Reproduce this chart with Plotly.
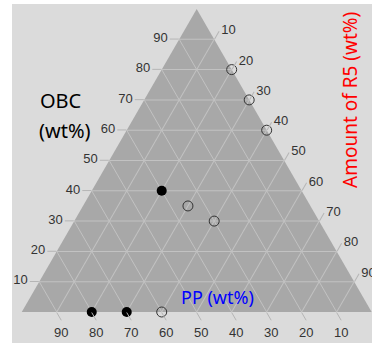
import plotly.graph_objects as go

# Data (a = OBC, b = PP, c = R5), wt%
filled_obc = [40, 0, 0]
filled_pp = [40, 80, 70]
filled_r5 = [20, 20, 30]

open_obc = [80, 70, 60, 35, 30, 0]
open_pp = [0, 0, 0, 35, 30, 60]
open_r5 = [20, 30, 40, 30, 40, 40]

tick_vals = [10, 20, 30, 40, 50, 60, 70, 80, 90]

W, H = 372, 343
fig = go.Figure()

fig.add_trace(go.Scatterternary(
    a=open_obc, b=open_pp, c=open_r5, mode="markers", cliponaxis=False,
    marker=dict(size=10, color="rgba(0,0,0,0)", line=dict(color="#333333", width=1)),
    showlegend=False, hoverinfo="skip"))
fig.add_trace(go.Scatterternary(
    a=filled_obc, b=filled_pp, c=filled_r5, mode="markers", cliponaxis=False,
    marker=dict(size=10, color="black", line=dict(width=0)),
    showlegend=False, hoverinfo="skip"))

axis_common = dict(
    tickmode="array", tickvals=tick_vals, ticks="outside", ticklen=9,
    tickcolor="#b5b5b5", tickfont=dict(family="Liberation Sans, Arial", size=13, color="#333333"),
    gridcolor="#c2c2c2", gridwidth=1, linecolor="rgba(0,0,0,0)", showline=False,
    title=dict(text=""), min=0,
)

x0, x1 = 21.7, 371.7
ybot, ytop = 312, 9
fig.update_layout(
    width=W, height=H,
    margin=dict(l=0, r=0, t=0, b=0),
    paper_bgcolor="white",
    ternary=dict(
        domain=dict(x=[x0 / W, x1 / W], y=[(H - ybot) / H, (H - ytop) / H]),
        bgcolor="#a8a8a8",
        sum=100,
        aaxis=axis_common,
        baxis=axis_common,
        caxis=axis_common,
    ),
    shapes=[dict(type="rect", xref="paper", yref="paper", x0=12 / W, x1=1, y0=0, y1=(H - 4) / H,
                 fillcolor="#dbdbdb", line=dict(width=0), layer="below")],
    annotations=[
        dict(text="OBC", x=38 / W, y=1 - 100 / H, xref="paper", yref="paper",
             xanchor="left", yanchor="middle", showarrow=False,
             font=dict(family="Noto Sans", size=20, color="black")),
        dict(text="(wt%)", x=37 / W, y=1 - 130 / H, xref="paper", yref="paper",
             xanchor="left", yanchor="middle", showarrow=False,
             font=dict(family="Noto Sans", size=20, color="black")),
        dict(text="Amount of R5 (wt%)", x=350 / W, y=1 - 100 / H, xref="paper", yref="paper",
             textangle=-90, showarrow=False, xanchor="center", yanchor="middle",
             font=dict(family="Noto Sans", size=19, color="red")),
        dict(text="PP (wt%)", x=217 / W, y=1 - 297 / H, xref="paper", yref="paper",
             showarrow=False, xanchor="center", yanchor="middle",
             font=dict(family="Noto Sans", size=18, color="blue")),
    ],
)

fig.write_html("out.html")
